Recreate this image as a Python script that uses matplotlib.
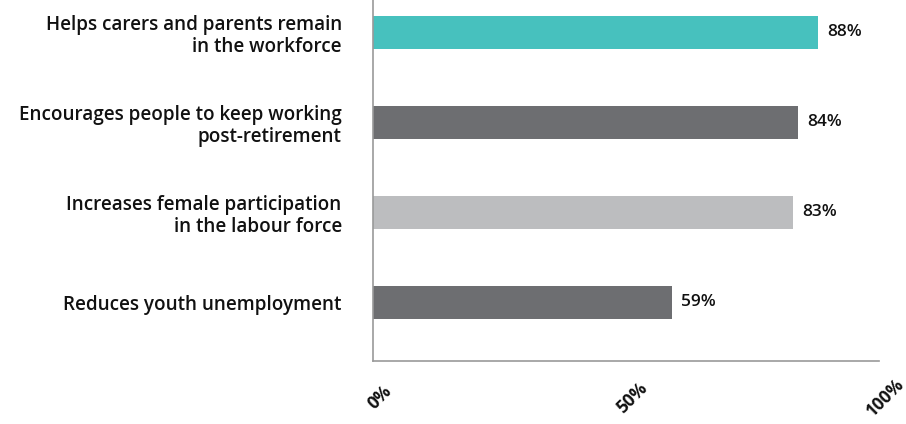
import numpy as np
import matplotlib.pyplot as plt
from matplotlib.ticker import FuncFormatter

# 数据
labels = ['Helps carers and parents remain\nin the workforce',
          'Encourages people to keep working\npost-retirement',
          'Increases female participation\nin the labour force',
          'Reduces youth unemployment']
values = [88, 84, 83, 59]
colors = ['#47C1BE', '#6D6E71', '#BCBDBF', '#6D6E71']
x_ticks = [0, 50, 100]

plt.rcParams['font.family'] = ['Open Sans', 'DejaVu Sans']

fig = plt.figure(figsize=(9.06, 4.24), dpi=100)
ax = fig.add_axes([373 / 906, 63 / 424, 506 / 906, 361 / 424])

pos = np.arange(len(values))
ax.barh(pos, values, height=0.367, color=colors)

# 数值标签
for p, v in zip(pos, values):
    ax.text(v + 1.8, p, f'{v}%', va='center', ha='left', fontsize=12.5,
            fontweight='semibold', color='#111111')

ax.set_xlim(0, 100)
ax.set_ylim(3.652, -0.361)
ax.set_yticks(pos)
ax.set_yticklabels(labels, fontsize=13.6, fontweight='semibold', color='#111111',
                   ha='right', linespacing=1.15)
ax.tick_params(axis='y', length=0, pad=22.5)

ax.set_xticks(x_ticks)
ax.xaxis.set_major_formatter(FuncFormatter(lambda x, _: f'{x:.0f}%'))
for t in ax.get_xticklabels():
    t.set_rotation(45)
    t.set_ha('center')
    t.set_rotation_mode('anchor')
    t.set_fontsize(12.5)
    t.set_fontweight('bold')
    t.set_color('#111111')
ax.tick_params(axis='x', length=0, pad=22)

for s in ['top', 'right']:
    ax.spines[s].set_visible(False)
for s in ['left', 'bottom']:
    ax.spines[s].set_color('#999999')
    ax.spines[s].set_linewidth(1.2)

fig.savefig('out.png', dpi=100)
